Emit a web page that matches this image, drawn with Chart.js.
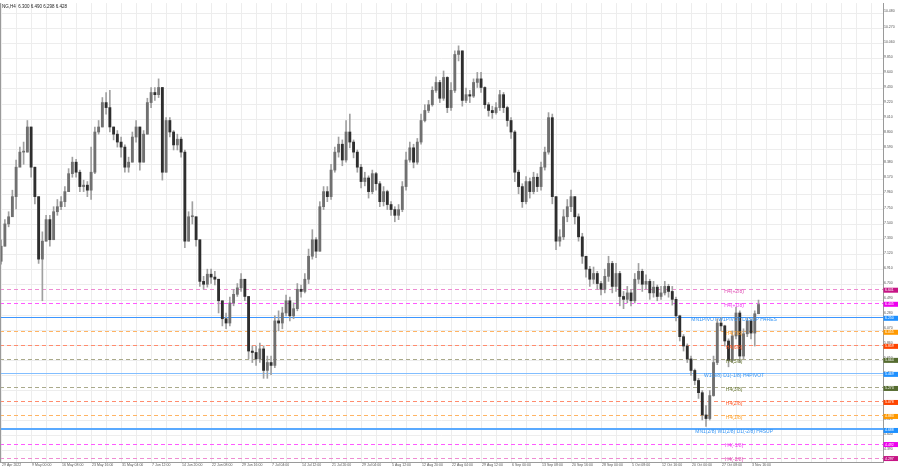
<!DOCTYPE html>
<html>
<head>
<meta charset="utf-8">
<script src="https://cdn.jsdelivr.net/npm/chart.js@4.4.1/dist/chart.umd.min.js"></script>
<style>
  html, body { margin: 0; padding: 0; background: #fff; }
  #wrap { width: 900px; height: 468px; position: relative; }
</style>
</head>
<body>
<div id="wrap"><canvas id="ngChart"></canvas></div>
<script>
// NG H4, each candle here groups 4 H4 bars
const chartTitle = 'NG,H4  6.300 6.490 6.298 6.428';

const opens = [
  7.03, 7.24, 7.55, 7.65, 7.93, 8.34, 8.55, 8.55, 8.90, 8.34,
  7.93, 7.06, 7.31, 7.61, 7.33, 7.72, 7.79, 7.86, 8.00, 8.25,
  8.41, 8.27, 8.07, 8.09, 8.02, 8.27, 8.83, 8.90, 9.24, 9.17,
  8.90, 8.80, 8.69, 8.62, 8.34, 8.41, 8.76, 8.90, 8.41, 8.80,
  9.24, 9.38, 9.35, 9.45, 8.27, 8.99, 8.83, 8.65, 8.73, 8.55,
  7.31, 7.65, 7.65, 7.33, 6.75, 6.71, 6.85, 6.81, 6.78, 6.48,
  6.23, 6.17, 6.45, 6.57, 6.66, 6.78, 6.54, 5.78, 5.76, 5.67,
  5.81, 5.51, 5.62, 5.58, 6.20, 6.17, 6.31, 6.48, 6.27, 6.37,
  6.64, 6.61, 6.78, 7.10, 7.33, 7.17, 7.79, 8.00, 7.93, 8.30,
  8.55, 8.66, 8.44, 8.83, 8.69, 8.55, 8.34, 8.14, 8.19, 8.00,
  8.25, 8.11, 7.86, 8.00, 7.82, 7.75, 7.67, 7.75, 8.07, 8.44,
  8.61, 8.41, 8.69, 8.99, 9.13, 9.21, 9.41, 9.52, 9.30, 9.59,
  9.17, 9.41, 9.91, 9.96, 9.27, 9.35, 9.33, 9.52, 9.57, 9.45,
  9.21, 9.13, 9.10, 9.17, 9.35, 9.17, 8.99, 8.83, 8.27, 8.07,
  7.86, 8.14, 8.00, 8.20, 8.07, 8.34, 8.55, 9.03, 7.93, 7.31,
  7.37, 7.65, 7.79, 7.93, 7.65, 7.37, 7.10, 6.92, 6.78, 6.86,
  6.72, 6.64, 6.82, 7.00, 6.68, 6.86, 6.54, 6.50, 6.59, 6.48,
  6.78, 6.89, 6.71, 6.75, 6.59, 6.67, 6.54, 6.59, 6.68, 6.61,
  6.50, 6.27, 5.98, 5.85, 5.67, 5.51, 5.37, 5.20, 4.89, 4.84,
  5.16, 5.62, 6.17, 6.13, 5.92, 5.65, 5.99, 6.31, 5.71, 6.02,
  6.20, 6.03, 6.300
];
const highs = [
  7.33, 7.61, 7.72, 8.02, 8.44, 8.62, 8.69, 8.99, 8.90, 8.34,
  7.93, 7.44, 7.67, 7.67, 7.79, 7.89, 7.93, 8.07, 8.32, 8.48,
  8.45, 8.30, 8.16, 8.14, 8.62, 8.90, 8.99, 9.31, 9.38, 9.41,
  8.90, 8.85, 8.76, 8.65, 8.48, 8.83, 8.99, 8.90, 8.85, 9.30,
  9.45, 9.45, 9.57, 9.45, 9.03, 9.03, 8.85, 8.80, 8.76, 8.58,
  7.72, 7.86, 7.65, 7.33, 6.82, 6.92, 6.92, 6.89, 6.78, 6.48,
  6.31, 6.53, 6.64, 6.72, 6.86, 6.78, 6.54, 5.85, 5.85, 5.89,
  5.85, 5.71, 5.71, 6.27, 6.34, 6.39, 6.56, 6.53, 6.45, 6.72,
  6.70, 6.86, 7.20, 7.47, 7.36, 7.86, 8.07, 8.07, 8.38, 8.62,
  8.76, 8.72, 8.99, 9.08, 8.72, 8.58, 8.38, 8.27, 8.22, 8.30,
  8.27, 8.14, 8.07, 8.02, 7.86, 7.79, 7.82, 8.14, 8.55, 8.69,
  8.66, 8.74, 9.08, 9.21, 9.27, 9.46, 9.60, 9.55, 9.68, 9.60,
  9.52, 9.96, 10.03, 9.96, 9.44, 9.41, 9.57, 9.66, 9.66, 9.46,
  9.24, 9.19, 9.24, 9.41, 9.38, 9.19, 9.03, 8.85, 8.30, 8.11,
  8.21, 8.19, 8.27, 8.25, 8.41, 8.62, 9.10, 9.08, 7.93, 7.47,
  7.75, 7.89, 8.02, 7.93, 7.69, 7.42, 7.10, 6.96, 6.95, 6.89,
  6.75, 6.92, 7.10, 7.03, 7.00, 6.89, 6.61, 6.68, 6.64, 6.86,
  7.00, 6.92, 6.84, 6.78, 6.75, 6.70, 6.68, 6.75, 6.71, 6.68,
  6.53, 6.28, 6.01, 5.88, 5.71, 5.53, 5.40, 5.23, 5.02, 5.23,
  5.71, 6.23, 6.25, 6.14, 5.95, 6.06, 6.39, 6.34, 6.09, 6.25,
  6.23, 6.34, 6.490
];
const lows = [
  6.99, 7.24, 7.51, 7.72, 7.76, 8.38, 8.38, 8.55, 8.20, 7.83,
  7.00, 6.48, 7.31, 7.24, 7.33, 7.67, 7.75, 7.79, 8.00, 8.20,
  8.20, 8.00, 8.00, 7.93, 7.89, 8.25, 8.80, 8.90, 9.08, 8.83,
  8.72, 8.62, 8.48, 8.27, 8.27, 8.41, 8.69, 8.30, 8.41, 8.80,
  9.17, 9.27, 9.31, 8.16, 8.27, 8.76, 8.58, 8.58, 8.48, 7.22,
  7.31, 7.55, 7.24, 6.68, 6.64, 6.67, 6.72, 6.70, 6.31, 6.13,
  6.09, 6.13, 6.41, 6.54, 6.61, 6.48, 5.67, 5.62, 5.58, 5.62,
  5.40, 5.40, 5.45, 5.55, 6.06, 6.09, 6.27, 6.20, 6.23, 6.34,
  6.53, 6.59, 6.72, 7.06, 7.08, 7.17, 7.75, 7.86, 7.89, 8.27,
  8.48, 8.36, 8.41, 8.61, 8.47, 8.27, 8.05, 8.08, 7.91, 7.97,
  8.02, 7.79, 7.80, 7.75, 7.67, 7.58, 7.61, 7.72, 8.02, 8.41,
  8.33, 8.38, 8.66, 8.97, 9.10, 9.19, 9.38, 9.24, 9.27, 9.10,
  9.13, 9.38, 9.82, 9.19, 9.24, 9.24, 9.31, 9.45, 9.38, 9.16,
  9.05, 9.02, 9.08, 9.13, 9.10, 8.91, 8.74, 8.14, 7.97, 7.78,
  7.83, 7.91, 7.97, 8.00, 8.02, 8.30, 8.52, 7.83, 7.19, 7.24,
  7.33, 7.58, 7.72, 7.55, 7.31, 7.00, 6.81, 6.68, 6.72, 6.64,
  6.56, 6.59, 6.75, 6.59, 6.61, 6.41, 6.37, 6.45, 6.41, 6.45,
  6.72, 6.61, 6.64, 6.50, 6.53, 6.48, 6.50, 6.56, 6.53, 6.42,
  6.20, 5.92, 5.78, 5.62, 5.44, 5.31, 5.12, 4.82, 4.73, 4.82,
  5.15, 5.59, 6.06, 5.85, 5.56, 5.62, 5.95, 5.62, 5.67, 5.98,
  5.95, 5.85, 6.298
];
const closes = [
  7.24, 7.55, 7.65, 7.93, 8.34, 8.55, 8.55, 8.90, 8.34, 7.93,
  7.06, 7.31, 7.61, 7.33, 7.72, 7.79, 7.86, 8.00, 8.25, 8.41,
  8.27, 8.07, 8.09, 8.02, 8.27, 8.83, 8.90, 9.24, 9.17, 8.90,
  8.80, 8.69, 8.62, 8.34, 8.41, 8.76, 8.90, 8.41, 8.80, 9.24,
  9.38, 9.35, 9.45, 8.27, 8.99, 8.83, 8.65, 8.73, 8.55, 7.31,
  7.65, 7.65, 7.33, 6.75, 6.71, 6.85, 6.81, 6.78, 6.48, 6.23,
  6.17, 6.45, 6.57, 6.66, 6.78, 6.54, 5.78, 5.76, 5.67, 5.81,
  5.51, 5.62, 5.58, 6.20, 6.17, 6.31, 6.48, 6.27, 6.37, 6.64,
  6.61, 6.78, 7.10, 7.33, 7.17, 7.79, 8.00, 7.93, 8.30, 8.55,
  8.66, 8.44, 8.83, 8.69, 8.55, 8.34, 8.14, 8.19, 8.00, 8.25,
  8.11, 7.86, 8.00, 7.82, 7.75, 7.67, 7.75, 8.07, 8.44, 8.61,
  8.41, 8.69, 8.99, 9.13, 9.21, 9.41, 9.52, 9.30, 9.59, 9.17,
  9.41, 9.91, 9.96, 9.27, 9.35, 9.33, 9.52, 9.57, 9.45, 9.21,
  9.13, 9.10, 9.17, 9.35, 9.17, 8.99, 8.83, 8.27, 8.07, 7.86,
  8.14, 8.00, 8.20, 8.07, 8.34, 8.55, 9.03, 7.93, 7.31, 7.37,
  7.65, 7.79, 7.93, 7.65, 7.37, 7.10, 6.92, 6.78, 6.86, 6.72,
  6.64, 6.82, 7.00, 6.68, 6.86, 6.54, 6.50, 6.59, 6.48, 6.78,
  6.89, 6.71, 6.75, 6.59, 6.67, 6.54, 6.59, 6.68, 6.61, 6.50,
  6.27, 5.98, 5.85, 5.67, 5.51, 5.37, 5.20, 4.89, 4.84, 5.16,
  5.62, 6.17, 6.13, 5.92, 5.65, 5.99, 6.31, 5.71, 6.02, 6.20,
  6.03, 6.30, 6.428
];

// one label every 8 candles (32 H4 bars)
const timeLabels = [
  '29 Apr 2022', '9 May 00:00', '16 May 08:00', '23 May 16:00', '31 May 04:00',
  '7 Jun 12:00', '14 Jun 20:00', '22 Jun 08:00', '29 Jun 16:00', '7 Jul 04:00',
  '14 Jul 12:00', '21 Jul 20:00', '29 Jul 04:00', '5 Aug 12:00', '12 Aug 20:00',
  '22 Aug 04:00', '29 Aug 12:00', '6 Sep 00:00', '13 Sep 08:00', '20 Sep 16:00',
  '28 Sep 00:00', '5 Oct 08:00', '12 Oct 16:00', '20 Oct 00:00', '27 Oct 08:00',
  '3 Nov 16:00'
];

const priceTicks = [
  10.48, 10.27, 10.06, 9.85, 9.64, 9.43, 9.22, 9.01, 8.80, 8.59,
  8.38, 8.17, 7.96, 7.75, 7.54, 7.33, 7.12, 6.91, 6.70, 6.49,
  6.28, 6.07, 5.86, 5.65, 5.44, 5.23, 5.02, 4.81, 4.60, 4.39
];

const levelPrices = [6.641, 6.445, 6.250, 6.055, 5.859, 5.664, 5.469, 5.273, 5.078, 4.883, 4.688, 4.492, 4.297];
const levelNames = [
  'H4(+2/8)', 'H4(+1/8)', 'MN1PIVOT W1PIVOT D1SUP H4RES', 'H4(7/8)', 'H4(6/8)', 'H4(5/8)',
  'W1(3/8) D1(-1/8) H4PIVOT', 'H4(3/8)', 'H4(2/8)', 'H4(1/8)',
  'MN1(2/8) W1(2/8) D1(-2/8) H4SUP', 'H4(-1/8)', 'H4(-2/8)'
];

const levelStyles = [
  { line: '#ee8cd2', text: '#e04cb4', box: '#c71585', dashed: true, width: 1 },
  { line: '#ff5aff', text: '#f03cf0', box: '#ee00ee', dashed: true, width: 1 },
  { line: '#3c96ff', text: '#3796f5', box: '#1e90ff', dashed: false, width: 1 },
  { line: '#ffb464', text: '#ffa22e', box: '#ff9900', dashed: true, width: 1 },
  { line: '#ff8c6e', text: '#ff5a28', box: '#ff4500', dashed: true, width: 1 },
  { line: '#aaaa8c', text: '#6b7a36', box: '#556b2f', dashed: true, width: 1 },
  { line: '#82beff', text: '#3796f5', box: '#1e90ff', dashed: false, width: 1 },
  { line: '#aaaa8c', text: '#6b7a36', box: '#556b2f', dashed: true, width: 1 },
  { line: '#ff8c6e', text: '#ff5a28', box: '#ff4500', dashed: true, width: 1 },
  { line: '#ffb464', text: '#ffa22e', box: '#ff9900', dashed: true, width: 1 },
  { line: '#5aaaff', text: '#3796f5', box: '#1e90ff', dashed: false, width: 2 },
  { line: '#ff5aff', text: '#f03cf0', box: '#ee00ee', dashed: true, width: 1 },
  { line: '#ee8cd2', text: '#e04cb4', box: '#c71585', dashed: true, width: 1 }
];
const levelTextAt = 195.5;

const bodies = closes.map((c, i) => ({ x: i, y: [opens[i], c] }));
const wicks = closes.map((c, i) => ({ x: i, y: [lows[i], highs[i]] }));

// level lines as filled rects, dashes drawn piece by piece
function drawLevelLines(chart) {
  const { ctx, chartArea: a, scales: { y } } = chart;
  ctx.save();
  levelPrices.forEach((p, i) => {
    const st = levelStyles[i];
    const top = Math.round(y.getPixelForValue(p)) - (st.width === 2 ? 1 : 0);
    ctx.fillStyle = st.line;
    if (st.dashed) {
      for (let px = a.left; px < a.right; px += 7) {
        ctx.fillRect(px, top, Math.min(4, a.right - px), st.width);
      }
    } else {
      ctx.fillRect(a.left, top, a.right - a.left, st.width);
    }
  });
  ctx.restore();
}

const levelsPlugin = {
  id: 'levels',
  beforeDatasetsDraw(chart) {
    drawLevelLines(chart);
  },
  afterDraw(chart) {
    const { ctx, chartArea: a, scales: { x, y } } = chart;
    ctx.save();
    // level names
    const tx = x.getPixelForValue(levelTextAt);
    ctx.font = '5px "Liberation Sans", Arial, sans-serif';
    ctx.textAlign = 'center';
    ctx.textBaseline = 'middle';
    levelPrices.forEach((p, i) => {
      ctx.fillStyle = levelStyles[i].text;
      ctx.fillText(levelNames[i], tx, y.getPixelForValue(p) + 2);
    });
    // price boxes on the axis
    ctx.font = '3.5px "Liberation Sans", Arial, sans-serif';
    ctx.textAlign = 'left';
    levelPrices.forEach((p, i) => {
      const py = y.getPixelForValue(p) + 1;
      ctx.fillStyle = levelStyles[i].box;
      ctx.fillRect(a.right + 0.5, py - 2.5, 14.5, 5);
      ctx.fillStyle = '#fff';
      ctx.fillText(p.toFixed(3), a.right + 2, py);
    });
    // left border
    ctx.fillStyle = '#9a9a9a';
    ctx.fillRect(a.left, a.top, 1, a.bottom - a.top);
    // symbol line
    ctx.fillStyle = '#222';
    ctx.font = '4.5px "Liberation Sans", Arial, sans-serif';
    ctx.textBaseline = 'top';
    ctx.fillText(chartTitle, a.left + 2, a.top + 1);
    ctx.restore();
  }
};

const ctx = document.getElementById('ngChart').getContext('2d');
const ngChart = new Chart(ctx, {
  type: 'bar',
  data: {
    datasets: [
      {
        label: 'body',
        data: bodies,
        backgroundColor: c => closes[c.dataIndex] >= opens[c.dataIndex] ? '#707070' : '#2e2e2e',
        barThickness: 2.2,
        minBarLength: 1,
        grouped: false,
        borderWidth: 0
      },
      {
        label: 'wick',
        data: wicks,
        backgroundColor: '#a0a0a0',
        barThickness: 1,
        grouped: false,
        borderWidth: 0
      }
    ]
  },
  options: {
    responsive: true,
    maintainAspectRatio: false,
    animation: false,
    devicePixelRatio: 1,
    layout: { padding: 0 },
    plugins: {
      legend: { display: false },
      tooltip: { enabled: false }
    },
    scales: {
      x: {
        type: 'linear',
        min: -0.3,
        max: 235.2,
        offset: false,
        grid: { color: '#ededed', offset: false, drawTicks: false },
        border: { color: '#9a9a9a' },
        ticks: {
          autoSkip: false,
          maxRotation: 0,
          align: 'start',
          padding: 1,
          labelOffset: 1,
          color: '#555',
          font: { size: 3.5, family: '"Liberation Sans", Arial, sans-serif' },
          callback: v => (v % 8 === 0 && timeLabels[v / 8]) ? timeLabels[v / 8] : ''
        },
        afterBuildTicks: s => {
          s.ticks = [];
          for (let v = 0; v <= 232; v += 4) s.ticks.push({ value: v });
        },
        afterFit: s => { s.height = 6; }
      },
      y: {
        type: 'linear',
        position: 'right',
        min: 4.235,
        max: 10.625,
        grid: { color: '#ededed', drawTicks: false },
        border: { color: '#9a9a9a' },
        ticks: {
          padding: 1,
          labelOffset: -2,
          color: '#555',
          font: { size: 3.5, family: '"Liberation Sans", Arial, sans-serif' },
          callback: v => v.toFixed(3)
        },
        afterBuildTicks: s => { s.ticks = priceTicks.map(v => ({ value: v })); },
        afterFit: s => { s.width = 17; }
      }
    }
  },
  plugins: [levelsPlugin]
});
</script>
</body>
</html>
